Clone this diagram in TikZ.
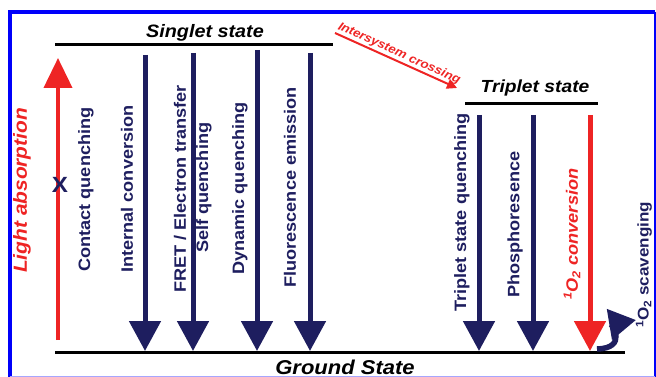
\documentclass[tikz,border=0pt]{standalone}
\usepackage{fontspec}
\setmainfont[FakeStretch=1.1]{Liberation Sans}
\usepackage{xcolor}
\usepackage{tikz}
\usetikzlibrary{arrows.meta,positioning}

\definecolor{navy}{RGB}{30,30,95}
\definecolor{jred}{RGB}{238,36,36}
\definecolor{frameblue}{RGB}{0,0,250}

\tikzset{
  level/.style={line width=3pt, black},
  decay/.style={line width=5pt, navy, -{Triangle[width=31pt,length=30pt]}},
  lab/.style={rotate=90, anchor=west, inner sep=0pt, text=navy,
    font=\bfseries\fontsize{16.5}{18}\selectfont},
  title/.style={inner sep=0pt, font=\bfseries\itshape\fontsize{18}{20}\selectfont},
}

\begin{document}
\begin{tikzpicture}[x=1pt, y=-1pt]
\useasboundingbox (0,0) rectangle (656,377);

% frame
\draw[frameblue, line width=4pt] (10,377) -- (10,12) -- (655,12);
\draw[frameblue, line width=2pt] (655,12) -- (655,377);
\draw[frameblue!35, line width=1pt] (10,376.5) -- (655,376.5);

% levels
\draw[level] (55,45) -- (333,45);
\draw[level] (465,104) -- (598,104);
\draw[level] (55,352) -- (625,352);
\node[title] (singlet) at (205,33) {Singlet state};
\node[title, font=\bfseries\itshape\fontsize{17.5}{20}\selectfont] (triplet) at (535,88) {Triplet state};
\node[title, font=\bfseries\itshape\fontsize{20}{22}\selectfont] (ground) at (345,367) {Ground State};

% light absorption
\coordinate (abs0) at (58,340);
\coordinate (abs1) at (58,58);
\draw[line width=4pt, jred, -{Triangle[width=28pt,length=30pt]}] (abs0) -- (abs1);
\node[lab, text=jred, font=\bfseries\itshape\fontsize{19}{20}\selectfont] (absorb) at (22,273) {Light absorption};
\node[text=navy, inner sep=0pt, font=\bfseries\fontsize{22}{22}\selectfont] (cross) at (60,185) {X};

% singlet decays
\foreach \n/\x/\t in {1/145/55, 2/193/53, 3/257/50, 4/310/53} {
    \coordinate (s\n) at (\x,\t);
    \coordinate (g\n) at (\x,351);
    \draw[decay] (s\n) -- (g\n);
}
\node[lab] (contact) at (86,272) {Contact quenching};
\node[lab] (internal) at (127,273) {Internal conversion};
\node[lab] (fret) at (180,293) {FRET / Electron transfer};
\node[lab] (self) at (204,253) {Self quenching};
\node[lab] (dynamic) at (240,275) {Dynamic quenching};
\node[lab] (fluor) at (290,288) {Fluorescence emission};

% intersystem crossing
\coordinate (isc0) at (335,33);
\coordinate (isc1) at (457,88);
\draw[line width=2pt, jred, -{Triangle[width=10pt,length=10pt]}] (isc0) -- (isc1)
    node[midway, sloped, above=1pt, inner sep=0pt, text=jred,
      font=\bfseries\itshape\fontsize{12}{13}\selectfont] (iscl) {Intersystem crossing};

% triplet decays
\foreach \n/\x in {5/479, 6/533} {
    \coordinate (s\n) at (\x,115);
    \coordinate (g\n) at (\x,351);
    \draw[decay] (s\n) -- (g\n);
}
\coordinate (s7) at (590,115);
\coordinate (g7) at (590,351);
\draw[decay, jred] (s7) -- (g7);
\node[lab] (tsq) at (462,312) {Triplet state quenching};
\node[lab] (phos) at (515,298) {Phosphoresence};
\node[lab, text=jred, font=\bfseries\itshape\fontsize{16.5}{18}\selectfont] (conv) at (572,300) {\textsuperscript{1}O\textsubscript{2} conversion};

% scavenging
\coordinate (sc0) at (597,349);
\coordinate (sc1) at (636,320);
\draw[line width=5.5pt, navy, -{Triangle[width=30pt,length=27pt]}] (sc0) .. controls (628,348) and (612,324) .. (sc1);
\node[lab, font=\bfseries\fontsize{15.5}{17}\selectfont] (scav) at (644,328) {\textsuperscript{1}O\textsubscript{2} scavenging};
\end{tikzpicture}
\end{document}
